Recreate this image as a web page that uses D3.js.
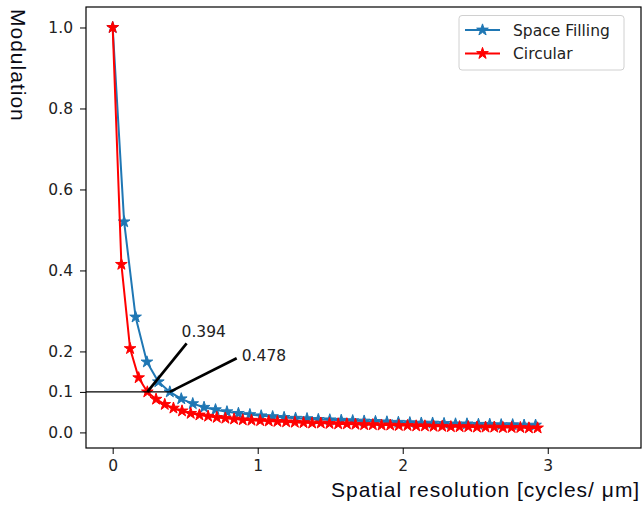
<!DOCTYPE html>
<html>
<head>
<meta charset="utf-8">
<script src="https://d3js.org/d3.v7.min.js"></script>
<style>
  body { margin: 0; background: #fff; }
  svg { display: block; }
  .tick text { font-family: "DejaVu Sans", sans-serif; font-size: 15.5px; fill: #222; }
  .tick line { stroke: #000; }
  .axis-label { font-family: "Liberation Sans", Arial, sans-serif; font-size: 21px; letter-spacing: 1px; fill: #0a0a14; }
  .note { font-family: "DejaVu Sans", sans-serif; font-size: 15.5px; fill: #222; }
  .legend text { font-family: "DejaVu Sans", sans-serif; font-size: 15.5px; fill: #222; }
</style>
</head>
<body>
<script>
var width = 643, height = 505;

// Space Filling (blue)
var spaceX = [0, 0.079, 0.158, 0.236, 0.315, 0.394, 0.473, 0.552, 0.630, 0.709,
  0.788, 0.867, 0.946, 1.024, 1.103, 1.182, 1.261, 1.340, 1.418, 1.497,
  1.576, 1.655, 1.734, 1.812, 1.891, 1.970, 2.049, 2.128, 2.206, 2.285,
  2.364, 2.443, 2.522, 2.600, 2.679, 2.758, 2.837, 2.916];
var spaceY = [1.0, 0.52, 0.285, 0.174, 0.125, 0.100, 0.083, 0.071, 0.062, 0.056,
  0.051, 0.047, 0.044, 0.041, 0.039, 0.037, 0.035, 0.034, 0.032, 0.031,
  0.030, 0.029, 0.028, 0.027, 0.026, 0.025, 0.024, 0.023, 0.023, 0.022,
  0.021, 0.021, 0.020, 0.020, 0.019, 0.019, 0.018, 0.018];

// Circular (red)
var circX = [0, 0.060, 0.120, 0.179, 0.239, 0.299, 0.359, 0.419, 0.478, 0.538,
  0.598, 0.658, 0.718, 0.777, 0.837, 0.897, 0.957, 1.017, 1.076, 1.136,
  1.196, 1.256, 1.316, 1.375, 1.435, 1.495, 1.555, 1.615, 1.674, 1.734,
  1.794, 1.854, 1.914, 1.973, 2.033, 2.093, 2.153, 2.213, 2.272, 2.332,
  2.392, 2.452, 2.512, 2.571, 2.631, 2.691, 2.751, 2.811, 2.870, 2.930];
var circY = [1.0, 0.415, 0.207, 0.135, 0.100, 0.082, 0.069, 0.060, 0.053, 0.047,
  0.043, 0.040, 0.037, 0.035, 0.033, 0.031, 0.030, 0.029, 0.028, 0.027,
  0.026, 0.025, 0.024, 0.023, 0.023, 0.022, 0.021, 0.021, 0.020, 0.019,
  0.019, 0.018, 0.018, 0.017, 0.017, 0.016, 0.016, 0.015, 0.015, 0.014,
  0.014, 0.014, 0.013, 0.013, 0.013, 0.012, 0.012, 0.012, 0.011, 0.011];

var xTicks = [0, 1, 2, 3];
var yTicks = [0, 0.1, 0.2, 0.4, 0.6, 0.8, 1.0];

// annotations: point on curve -> text position (data coords)
var notes = [
  {label: "0.394", px: 0.239, py: 0.1, tx: 0.51, ty: 0.22, lx: 0.475, ly: 0.235},
  {label: "0.478", px: 0.394, py: 0.1, tx: 0.855, ty: 0.183, lx: 0.89, ly: 0.176}
];

var series = [
  {name: "Space Filling", color: "#1f77b4", xs: spaceX, ys: spaceY},
  {name: "Circular", color: "#ff0000", xs: circX, ys: circY}
];

var plotL = 86, plotR = 641, plotT = 7, plotB = 448;

var x = d3.scaleLinear().domain([-0.184, 3.643]).range([plotL, plotR]);
var y = d3.scaleLinear().domain([-0.0385, 1.0506]).range([plotB, plotT]);

var svg = d3.select("body")
  .append("svg")
  .attr("width", width)
  .attr("height", height);

var line = d3.line()
  .x(function(d) { return x(d[0]); })
  .y(function(d) { return y(d[1]); });

var star = d3.symbol().type(d3.symbolStar).size(42);

series.forEach(function(s) {
  var pts = s.xs.map(function(v, i) { return [v, s.ys[i]]; });
  svg.append("path")
    .datum(pts)
    .attr("d", line)
    .attr("fill", "none")
    .attr("stroke", s.color)
    .attr("stroke-width", 2);
  svg.append("g").selectAll("path")
    .data(pts)
    .enter().append("path")
    .attr("d", star)
    .attr("transform", function(d) { return "translate(" + x(d[0]) + "," + y(d[1]) + ")"; })
    .attr("fill", s.color)
    .attr("stroke", s.color)
    .attr("stroke-width", 1);
});

// horizontal 0.1 line
svg.append("line")
  .attr("x1", plotL).attr("x2", x(notes[1].px))
  .attr("y1", y(0.1)).attr("y2", y(0.1))
  .attr("stroke", "#000").attr("stroke-width", 1.1);

svg.append("g").selectAll("line")
  .data(notes)
  .enter().append("line")
  .attr("x1", function(d) { return x(d.px); })
  .attr("y1", function(d) { return y(d.py); })
  .attr("x2", function(d) { return x(d.tx); })
  .attr("y2", function(d) { return y(d.ty); })
  .attr("stroke", "#000")
  .attr("stroke-width", 2.7);

svg.append("g").selectAll("text")
  .data(notes)
  .enter().append("text")
  .attr("class", "note")
  .attr("x", function(d) { return x(d.lx); })
  .attr("y", function(d) { return y(d.ly); })
  .text(function(d) { return d.label; });

// axes
svg.append("g")
  .attr("transform", "translate(0," + plotB + ")")
  .call(d3.axisBottom(x).tickValues(xTicks).tickFormat(d3.format("d")).tickSize(6).tickPadding(6))
  .call(function(g) { g.select(".domain").remove(); });

svg.append("g")
  .attr("transform", "translate(" + plotL + ",0)")
  .call(d3.axisLeft(y).tickValues(yTicks).tickFormat(d3.format(".1f")).tickSize(6).tickPadding(7))
  .call(function(g) { g.select(".domain").remove(); });

svg.append("rect")
  .attr("x", plotL).attr("y", plotT)
  .attr("width", plotR - plotL).attr("height", plotB - plotT)
  .attr("fill", "none")
  .attr("stroke", "#000")
  .attr("stroke-width", 1.2);

// legend
var legend = svg.append("g").attr("class", "legend");
legend.append("rect")
  .attr("x", 459).attr("y", 15.5)
  .attr("width", 165).attr("height", 54.5)
  .attr("rx", 3)
  .attr("fill", "#fff")
  .attr("fill-opacity", 0.8)
  .attr("stroke", "#d0d0d0");

var item = legend.selectAll("g.item")
  .data(series)
  .enter().append("g")
  .attr("class", "item")
  .attr("transform", function(d, i) { return "translate(0," + (30 + i * 23.5) + ")"; });
item.append("line")
  .attr("x1", 465).attr("x2", 500)
  .attr("stroke", function(d) { return d.color; })
  .attr("stroke-width", 2);
item.append("path")
  .attr("d", star)
  .attr("transform", "translate(482.5,0)")
  .attr("fill", function(d) { return d.color; })
  .attr("stroke", function(d) { return d.color; })
  .attr("stroke-width", 1);
item.append("text")
  .attr("x", 513)
  .attr("y", 5.5)
  .text(function(d) { return d.name; });

// axis labels
svg.append("text")
  .attr("class", "axis-label")
  .attr("x", 331)
  .attr("y", 497)
  .text("Spatial resolution [cycles/ μm]");

svg.append("text")
  .attr("class", "axis-label")
  .attr("transform", "translate(11,9) rotate(90)")
  .text("Modulation");
</script>
</body>
</html>
